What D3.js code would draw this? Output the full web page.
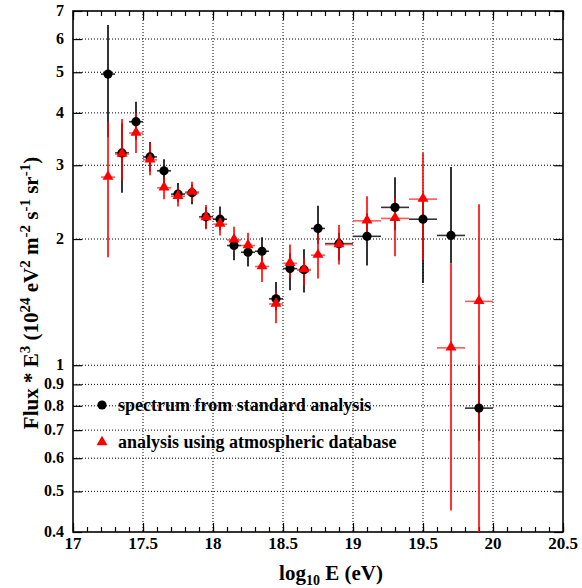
<!DOCTYPE html>
<html>
<head>
<meta charset="utf-8">
<script src="https://cdn.jsdelivr.net/npm/d3@7"></script>
<style>
  body { margin: 0; background: #fff; }
  svg text { font-family: "Liberation Serif", "DejaVu Serif", serif; font-weight: bold; }
</style>
</head>
<body>
<div id="chart"></div>
<script>
// standard analysis (black)
var blackX   = [17.25, 17.35, 17.45, 17.55, 17.65, 17.75, 17.85, 17.95, 18.05, 18.15, 18.25, 18.35, 18.45, 18.55, 18.65, 18.75, 18.9, 19.1, 19.3, 19.5, 19.7, 19.9];
var blackBin = [0.05, 0.05, 0.05, 0.05, 0.05, 0.05, 0.05, 0.05, 0.05, 0.05, 0.05, 0.05, 0.05, 0.05, 0.05, 0.05, 0.1, 0.1, 0.1, 0.1, 0.1, 0.1];
var blackY   = [4.95, 3.21, 3.81, 3.14, 2.91, 2.56, 2.58, 2.26, 2.23, 1.93, 1.86, 1.87, 1.44, 1.70, 1.69, 2.12, 1.95, 2.03, 2.38, 2.23, 2.04, 0.79];
var blackLo  = [3.50, 2.58, 3.45, 2.90, 2.72, 2.45, 2.42, 2.12, 2.10, 1.78, 1.72, 1.76, 1.35, 1.51, 1.49, 1.95, 1.78, 1.73, 2.10, 1.57, 1.75, 0.66];
var blackHi  = [6.48, 3.78, 4.25, 3.41, 3.10, 2.72, 2.70, 2.38, 2.39, 2.05, 1.98, 2.02, 1.58, 1.85, 1.89, 2.40, 2.07, 2.30, 2.81, 2.55, 2.97, 1.00];

// analysis using atmospheric database (red)
var redX   = [17.25, 17.35, 17.45, 17.55, 17.65, 17.75, 17.85, 17.95, 18.05, 18.15, 18.25, 18.35, 18.45, 18.55, 18.65, 18.75, 18.9, 19.1, 19.3, 19.5, 19.7, 19.9];
var redBin = [0.05, 0.05, 0.05, 0.05, 0.05, 0.05, 0.05, 0.05, 0.05, 0.05, 0.05, 0.05, 0.05, 0.05, 0.05, 0.05, 0.1, 0.1, 0.1, 0.1, 0.1, 0.1];
var redY   = [2.81, 3.19, 3.58, 3.09, 2.65, 2.53, 2.59, 2.25, 2.17, 1.99, 1.93, 1.72, 1.40, 1.75, 1.69, 1.83, 1.94, 2.21, 2.24, 2.49, 1.10, 1.42];
var redLo  = [1.81, 2.77, 3.21, 2.84, 2.49, 2.39, 2.46, 2.11, 2.04, 1.87, 1.82, 1.58, 1.26, 1.62, 1.55, 1.61, 1.74, 2.05, 1.82, 1.78, 0.45, 0.40];
var redHi  = [3.80, 3.87, 4.00, 3.39, 2.80, 2.65, 2.74, 2.41, 2.30, 2.14, 2.07, 1.85, 1.50, 1.94, 1.80, 2.05, 2.16, 2.53, 2.50, 3.21, 1.75, 2.42];

var xTicks = [17, 17.5, 18, 18.5, 19, 19.5, 20, 20.5];
var yTicks = [0.4, 0.5, 0.6, 0.7, 0.8, 0.9, 1, 2, 3, 4, 5, 6, 7];

(function() {
var width = 582, height = 588;
var pl = 73, pr = 563, pt = 11, pb = 532;

var x = d3.scaleLinear().domain([17, 20.5]).range([pl, pr]);
var y = d3.scaleLog().domain([0.4, 7]).range([pb, pt]);

var svg = d3.select("#chart").append("svg")
    .attr("width", width)
    .attr("height", height);

function series(xs, bins, ys, lo, hi) {
    return xs.map(function(d, i) {
        return { x: d, b: bins[i], y: ys[i], lo: lo[i], hi: hi[i] };
    });
}
var black = series(blackX, blackBin, blackY, blackLo, blackHi);
var red = series(redX, redBin, redY, redLo, redHi);

// grid
var grid = svg.append("g")
    .attr("stroke", "#000")
    .attr("stroke-width", 1)
    .attr("stroke-dasharray", "1,2");
grid.selectAll(".gx")
    .data(xTicks.slice(1, -1))
    .enter().append("line")
    .attr("x1", function(d) { return x(d); })
    .attr("x2", function(d) { return x(d); })
    .attr("y1", pt).attr("y2", pb);
grid.selectAll(".gy")
    .data(yTicks.slice(1, -1))
    .enter().append("line")
    .attr("y1", function(d) { return y(d); })
    .attr("y2", function(d) { return y(d); })
    .attr("x1", pl).attr("x2", pr);

// axes
var xMinor = d3.range(170, 206).map(function(d) { return d / 10; });
function noDomain(g) { g.select(".domain").remove(); }

svg.append("g")
    .attr("transform", "translate(0," + pb + ")")
    .call(d3.axisTop(x).tickValues(xMinor).tickSize(5).tickFormat(""))
    .call(noDomain);
svg.append("g")
    .attr("transform", "translate(0," + pb + ")")
    .call(d3.axisTop(x).tickValues(xTicks).tickSize(9).tickFormat(""))
    .call(noDomain);
svg.append("g")
    .attr("transform", "translate(0," + pt + ")")
    .call(d3.axisBottom(x).tickValues(xMinor).tickSize(5).tickFormat(""))
    .call(noDomain);
svg.append("g")
    .attr("transform", "translate(0," + pt + ")")
    .call(d3.axisBottom(x).tickValues(xTicks).tickSize(9).tickFormat(""))
    .call(noDomain);
svg.append("g")
    .attr("transform", "translate(" + pl + ",0)")
    .call(d3.axisRight(y).tickValues(yTicks).tickSize(9).tickFormat(""))
    .call(noDomain);
svg.append("g")
    .attr("transform", "translate(" + pr + ",0)")
    .call(d3.axisLeft(y).tickValues(yTicks).tickSize(9).tickFormat(""))
    .call(noDomain);
svg.selectAll(".tick line").attr("stroke", "#000").attr("stroke-width", 1.2);

svg.append("rect")
    .attr("x", pl).attr("y", pt)
    .attr("width", pr - pl).attr("height", pb - pt)
    .attr("fill", "none").attr("stroke", "#000").attr("stroke-width", 1.6);

// tick labels
svg.selectAll(".xl")
    .data(xTicks)
    .enter().append("text")
    .attr("x", function(d) { return x(d); })
    .attr("y", pb + 17)
    .attr("text-anchor", "middle")
    .attr("font-size", 17)
    .text(function(d) { return d; });
svg.selectAll(".yl")
    .data(yTicks)
    .enter().append("text")
    .attr("x", pl - 9)
    .attr("y", function(d) { return y(d) + 5; })
    .attr("text-anchor", "end")
    .attr("font-size", 16)
    .text(function(d) { return d; });

// axis titles
var xt = svg.append("text")
    .attr("x", 331).attr("y", 580)
    .attr("text-anchor", "middle")
    .attr("font-size", 21);
xt.append("tspan").text("log");
xt.append("tspan").attr("font-size", 14).attr("dy", 5).text("10");
xt.append("tspan").attr("dy", -5).text(" E (eV)");

var yt = svg.append("text")
    .attr("transform", "translate(38,293) rotate(-90)")
    .attr("text-anchor", "middle")
    .attr("font-size", 21);
var parts = [["Flux * E", "3"], [" (10", "24"], [" eV", "2"], [" m", "-2"], [" s", "-1"], [" sr", "-1"], [")", null]];
parts.forEach(function(p, i) {
    yt.append("tspan").attr("dy", i === 0 ? 0 : 8).text(p[0]);
    if (p[1]) yt.append("tspan").attr("font-size", 15).attr("dy", -8).text(p[1]);
});

// clip marks to plot
svg.append("clipPath").attr("id", "plot")
    .append("rect").attr("x", pl).attr("y", pt)
    .attr("width", pr - pl).attr("height", pb - pt);
var plot = svg.append("g").attr("clip-path", "url(#plot)");

function bars(data, color, hColor) {
    var g = plot.append("g");
    g.selectAll("line.v")
        .data(data).enter().append("line")
        .attr("x1", function(d) { return x(d.x); })
        .attr("x2", function(d) { return x(d.x); })
        .attr("y1", function(d) { return y(d.lo); })
        .attr("y2", function(d) { return y(d.hi); })
        .attr("stroke", color).attr("stroke-width", 1.6);
    g.selectAll("line.h")
        .data(data).enter().append("line")
        .attr("x1", function(d) { return x(d.x - d.b); })
        .attr("x2", function(d) { return x(d.x + d.b); })
        .attr("y1", function(d) { return y(d.y); })
        .attr("y2", function(d) { return y(d.y); })
        .attr("stroke", hColor).attr("stroke-width", 1.6);
}
bars(black, "#000", "#333");
bars(red, "#f00", "#ff5a5a");

var tri = d3.symbol().type(d3.symbolTriangle).size(52);

plot.selectAll("circle.b")
    .data(black).enter().append("circle")
    .attr("cx", function(d) { return x(d.x); })
    .attr("cy", function(d) { return y(d.y); })
    .attr("r", 4.6)
    .attr("fill", "#000");
plot.selectAll("path.r")
    .data(red).enter().append("path")
    .attr("d", tri)
    .attr("transform", function(d) { return "translate(" + x(d.x) + "," + (y(d.y) - 0.5) + ")"; })
    .attr("fill", "#f00");

// legend
var legend = [
    { label: "spectrum from standard analysis", sym: "circle", ly: 405 },
    { label: "analysis using atmospheric database", sym: "tri", ly: 442 }
];
legend.forEach(function(l) {
    if (l.sym === "circle") {
        svg.append("circle").attr("cx", 102).attr("cy", l.ly).attr("r", 4.6).attr("fill", "#000");
    } else {
        svg.append("path").attr("d", tri).attr("transform", "translate(102," + l.ly + ")").attr("fill", "#f00");
    }
    svg.append("text")
        .attr("x", 118).attr("y", l.ly + 6)
        .attr("font-size", 18)
        .text(l.label);
});
})();
</script>
</body>
</html>
